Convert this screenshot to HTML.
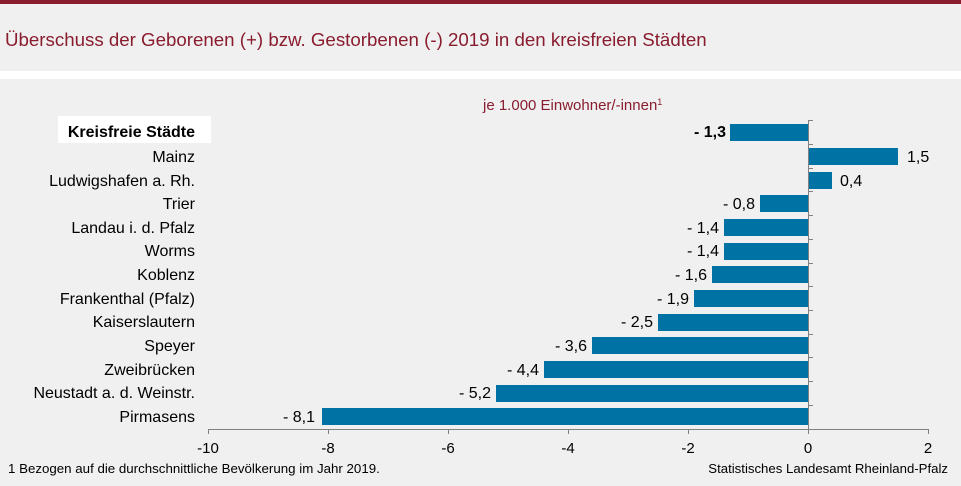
<!DOCTYPE html>
<html><head><meta charset="utf-8"><style>
html,body{margin:0;padding:0;}
body{width:961px;height:481px;background:#eff0ef;overflow:hidden;font-family:"Liberation Sans",sans-serif;}
</style></head><body>
<svg width="961" height="481" xmlns="http://www.w3.org/2000/svg" font-family="Liberation Sans, sans-serif">
<rect x="0" y="0" width="961" height="481" fill="#eff0ef"/>
<rect x="0" y="0" width="961" height="4" fill="#8a1c30"/>
<rect x="0" y="71" width="961" height="8" fill="#ffffff"/>
<text x="5" y="46" font-size="18.7" fill="#8a1c30">Überschuss der Geborenen (+) bzw. Gestorbenen (-) 2019 in den kreisfreien Städten</text>
<text x="483" y="110" font-size="15" fill="#8a1c30">je 1.000 Einwohner/-innen<tspan font-size="9" dy="-5">1</tspan></text>
<rect x="58" y="116" width="153" height="27" fill="#ffffff"/>
<g font-size="16" fill="#000" text-anchor="end">
<text x="195" y="137" font-weight="bold">Kreisfreie Städte</text>
<text x="195" y="162">Mainz</text>
<text x="195" y="186">Ludwigshafen a. Rh.</text>
<text x="195" y="209">Trier</text>
<text x="195" y="233">Landau i. d. Pfalz</text>
<text x="195" y="256">Worms</text>
<text x="195" y="280">Koblenz</text>
<text x="195" y="304">Frankenthal (Pfalz)</text>
<text x="195" y="327">Kaiserslautern</text>
<text x="195" y="351">Speyer</text>
<text x="195" y="375">Zweibrücken</text>
<text x="195" y="398">Neustadt a. d. Weinstr.</text>
<text x="195" y="422">Pirmasens</text>
</g>
<g fill="#0072a3">
<rect x="730" y="124" width="78" height="17"/>
<rect x="808" y="148" width="90" height="17"/>
<rect x="808" y="172" width="24" height="17"/>
<rect x="760" y="195" width="48" height="17"/>
<rect x="724" y="219" width="84" height="17"/>
<rect x="724" y="243" width="84" height="17"/>
<rect x="712" y="266" width="96" height="17"/>
<rect x="694" y="290" width="114" height="17"/>
<rect x="658" y="314" width="150" height="17"/>
<rect x="592" y="337" width="216" height="17"/>
<rect x="544" y="361" width="264" height="17"/>
<rect x="496" y="385" width="312" height="17"/>
<rect x="322" y="408" width="486" height="17"/>
</g>
<g font-size="16" fill="#000">
<text x="726" y="137" text-anchor="end" font-weight="bold">- 1,3</text>
<text x="907" y="162">1,5</text>
<text x="840" y="186">0,4</text>
<text x="755" y="209" text-anchor="end">- 0,8</text>
<text x="719" y="233" text-anchor="end">- 1,4</text>
<text x="719" y="256" text-anchor="end">- 1,4</text>
<text x="707" y="280" text-anchor="end">- 1,6</text>
<text x="689" y="304" text-anchor="end">- 1,9</text>
<text x="653" y="327" text-anchor="end">- 2,5</text>
<text x="587" y="351" text-anchor="end">- 3,6</text>
<text x="539" y="375" text-anchor="end">- 4,4</text>
<text x="491" y="398" text-anchor="end">- 5,2</text>
<text x="315" y="422" text-anchor="end">- 8,1</text>
</g>
<g stroke="#808080" stroke-width="1">
<line x1="808.5" y1="120" x2="808.5" y2="430"/>
<line x1="208" y1="429.5" x2="929" y2="429.5"/>
<line x1="208.5" y1="429" x2="208.5" y2="434"/>
<line x1="328.5" y1="429" x2="328.5" y2="434"/>
<line x1="448.5" y1="429" x2="448.5" y2="434"/>
<line x1="568.5" y1="429" x2="568.5" y2="434"/>
<line x1="688.5" y1="429" x2="688.5" y2="434"/>
<line x1="808.5" y1="429" x2="808.5" y2="434"/>
<line x1="928.5" y1="429" x2="928.5" y2="434"/>
<line x1="808" y1="120.5" x2="813" y2="120.5"/>
<line x1="808" y1="144.5" x2="813" y2="144.5"/>
<line x1="808" y1="168.5" x2="813" y2="168.5"/>
<line x1="808" y1="191.5" x2="813" y2="191.5"/>
<line x1="808" y1="215.5" x2="813" y2="215.5"/>
<line x1="808" y1="239.5" x2="813" y2="239.5"/>
<line x1="808" y1="263.5" x2="813" y2="263.5"/>
<line x1="808" y1="286.5" x2="813" y2="286.5"/>
<line x1="808" y1="310.5" x2="813" y2="310.5"/>
<line x1="808" y1="334.5" x2="813" y2="334.5"/>
<line x1="808" y1="357.5" x2="813" y2="357.5"/>
<line x1="808" y1="381.5" x2="813" y2="381.5"/>
<line x1="808" y1="405.5" x2="813" y2="405.5"/>
</g>
<g font-size="15" fill="#000" text-anchor="middle">
<text x="208" y="453">-10</text>
<text x="328" y="453">-8</text>
<text x="448" y="453">-6</text>
<text x="568" y="453">-4</text>
<text x="688" y="453">-2</text>
<text x="808" y="453">0</text>
<text x="928" y="453">2</text>
</g>
<text x="8" y="473" font-size="13.3" fill="#000">1 Bezogen auf die durchschnittliche Bevölkerung  im Jahr 2019.</text>
<text x="948" y="473" font-size="13.2" fill="#000" text-anchor="end">Statistisches Landesamt Rheinland-Pfalz</text>
</svg>
</body></html>
